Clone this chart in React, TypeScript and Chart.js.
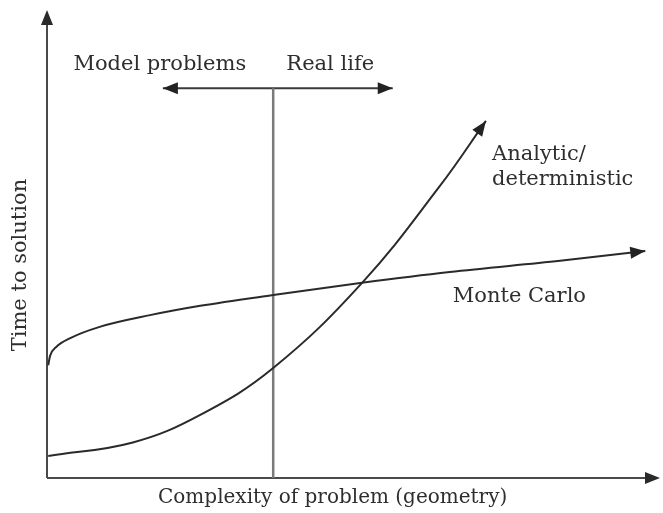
import React, { useEffect, useRef } from "react";
import { Chart, registerables } from "chart.js";

Chart.register(...registerables);

// Complexity (x) and time-to-solution (y), arbitrary units 0..100
const analyticX = [0.2, 14.0, 25.0, 36.9, 51.4, 64.1, 71.6];
const analyticY = [4.7, 7.6, 13.5, 23.5, 41.7, 62.4, 76.3];

const monteX = [0.2, 0.5, 1.5, 3.8, 8.6, 16.8, 25.0, 36.9, 51.4, 65.7, 83.7, 97.6];
const monteY = [24.1, 26.1, 28.0, 29.9, 32.3, 34.8, 36.8, 39.1, 41.7, 44.0, 46.4, 48.5];

const dividerX = [36.9, 36.9];
const dividerY = [0, 83.3];

const rangeX = [18.9, 56.4];
const rangeY = [83.3, 83.3];

const xTitle = "Complexity of problem (geometry)";
const yTitle = "Time to solution";
const leftLabel = "Model problems";
const rightLabel = "Real life";
const analyticLabel = ["Analytic/", "deterministic"];
const monteLabel = "Monte Carlo";

const toPts = (xs: number[], ys: number[]) => xs.map((x, i) => ({ x, y: ys[i] }));

function arrowHead(ctx: CanvasRenderingContext2D, fx: number, fy: number, tx: number, ty: number, len = 14, half = 6) {
  const a = Math.atan2(ty - fy, tx - fx);
  ctx.beginPath();
  ctx.moveTo(tx, ty);
  ctx.lineTo(tx - len * Math.cos(a) + half * Math.sin(a), ty - len * Math.sin(a) - half * Math.cos(a));
  ctx.lineTo(tx - len * Math.cos(a) - half * Math.sin(a), ty - len * Math.sin(a) + half * Math.cos(a));
  ctx.closePath();
  ctx.fill();
}

const decorPlugin = {
  id: "decor",
  beforeDatasetsDraw(chart: any) {
    const { ctx, chartArea } = chart;
    ctx.save();
    ctx.strokeStyle = "#4a4a4a";
    ctx.fillStyle = "#2a2a2a";
    ctx.lineWidth = 2;
    ctx.beginPath();
    ctx.moveTo(chartArea.left, chartArea.bottom);
    ctx.lineTo(chartArea.left, chartArea.top + 8);
    ctx.moveTo(chartArea.left, chartArea.bottom);
    ctx.lineTo(chartArea.right - 8, chartArea.bottom);
    ctx.stroke();
    arrowHead(ctx, chartArea.left, chartArea.bottom, chartArea.left, chartArea.top, 15, 6);
    arrowHead(ctx, chartArea.left, chartArea.bottom, chartArea.right, chartArea.bottom, 15, 6);
    ctx.restore();
  },
  afterDatasetsDraw(chart: any) {
    const { ctx } = chart;
    const xs = chart.scales.x;
    const ys = chart.scales.y;
    ctx.save();
    ctx.fillStyle = "#222";
    [0, 1].forEach((di) => {
      const pts = chart.getDatasetMeta(di).data;
      const n = pts.length;
      const cp = pts[n - 1].cp1x !== undefined ? { x: pts[n - 1].cp1x, y: pts[n - 1].cp1y } : pts[n - 2];
      arrowHead(ctx, cp.x, cp.y, pts[n - 1].x, pts[n - 1].y, 15, 6);
    });
    const r = chart.getDatasetMeta(3).data;
    arrowHead(ctx, r[1].x, r[1].y, r[0].x, r[0].y, 15, 6);
    arrowHead(ctx, r[0].x, r[0].y, r[1].x, r[1].y, 15, 6);

    ctx.fillStyle = "#2e2e2e";
    ctx.font = "21px 'DejaVu Serif'";
    ctx.textBaseline = "alphabetic";
    ctx.textAlign = "center";
    ctx.fillText(leftLabel, xs.getPixelForValue(18.4), ys.getPixelForValue(87.2));
    ctx.fillText(rightLabel, xs.getPixelForValue(46.2), ys.getPixelForValue(87.2));
    ctx.textAlign = "left";
    ctx.fillText(analyticLabel[0], xs.getPixelForValue(72.6), ys.getPixelForValue(68.0));
    ctx.fillText(analyticLabel[1], xs.getPixelForValue(72.6), ys.getPixelForValue(62.6));
    ctx.fillText(monteLabel, xs.getPixelForValue(66.2), ys.getPixelForValue(37.6));
    ctx.textAlign = "center";
    ctx.font = "20px 'DejaVu Serif'";
    ctx.fillText(xTitle, xs.getPixelForValue(46.6), chart.chartArea.bottom + 25);
    ctx.font = "21px 'DejaVu Serif'";
    ctx.translate(26, ys.getPixelForValue(45.5));
    ctx.rotate(-Math.PI / 2);
    ctx.fillText(yTitle, 0, 0);
    ctx.restore();
  },
};

export default function App() {
  const ref = useRef<HTMLCanvasElement>(null);
  useEffect(() => {
    if (!ref.current) return;
    const chart = new Chart(ref.current, {
      type: "scatter",
      data: {
        datasets: [
          {
            data: toPts(analyticX, analyticY),
            showLine: true,
            borderColor: "#2a2a2a",
            borderWidth: 2,
            pointRadius: 0,
            tension: 0.4,
          },
          {
            data: toPts(monteX, monteY),
            showLine: true,
            borderColor: "#2a2a2a",
            borderWidth: 2,
            pointRadius: 0,
            cubicInterpolationMode: "monotone",
          },
          {
            data: toPts(dividerX, dividerY),
            showLine: true,
            borderColor: "#7a7a7a",
            borderWidth: 2.5,
            pointRadius: 0,
          },
          {
            data: toPts(rangeX, rangeY),
            showLine: true,
            borderColor: "#3a3a3a",
            borderWidth: 2,
            pointRadius: 0,
          },
        ],
      },
      options: {
        responsive: false,
        animation: false,
        devicePixelRatio: 1,
        layout: { padding: { left: 47, right: 3, top: 10, bottom: 35 } },
        plugins: { legend: { display: false }, tooltip: { enabled: false } },
        scales: {
          x: { type: "linear", min: 0, max: 100, display: false },
          y: { type: "linear", min: 0, max: 100, display: false },
        },
      },
      plugins: [decorPlugin],
    } as any);
    return () => chart.destroy();
  }, []);
  return (
    <div style={{ position: "absolute", left: 0, top: 0, width: 663, height: 513, background: "#fff" }}>
      <canvas ref={ref} width={663} height={513} />
    </div>
  );
}
